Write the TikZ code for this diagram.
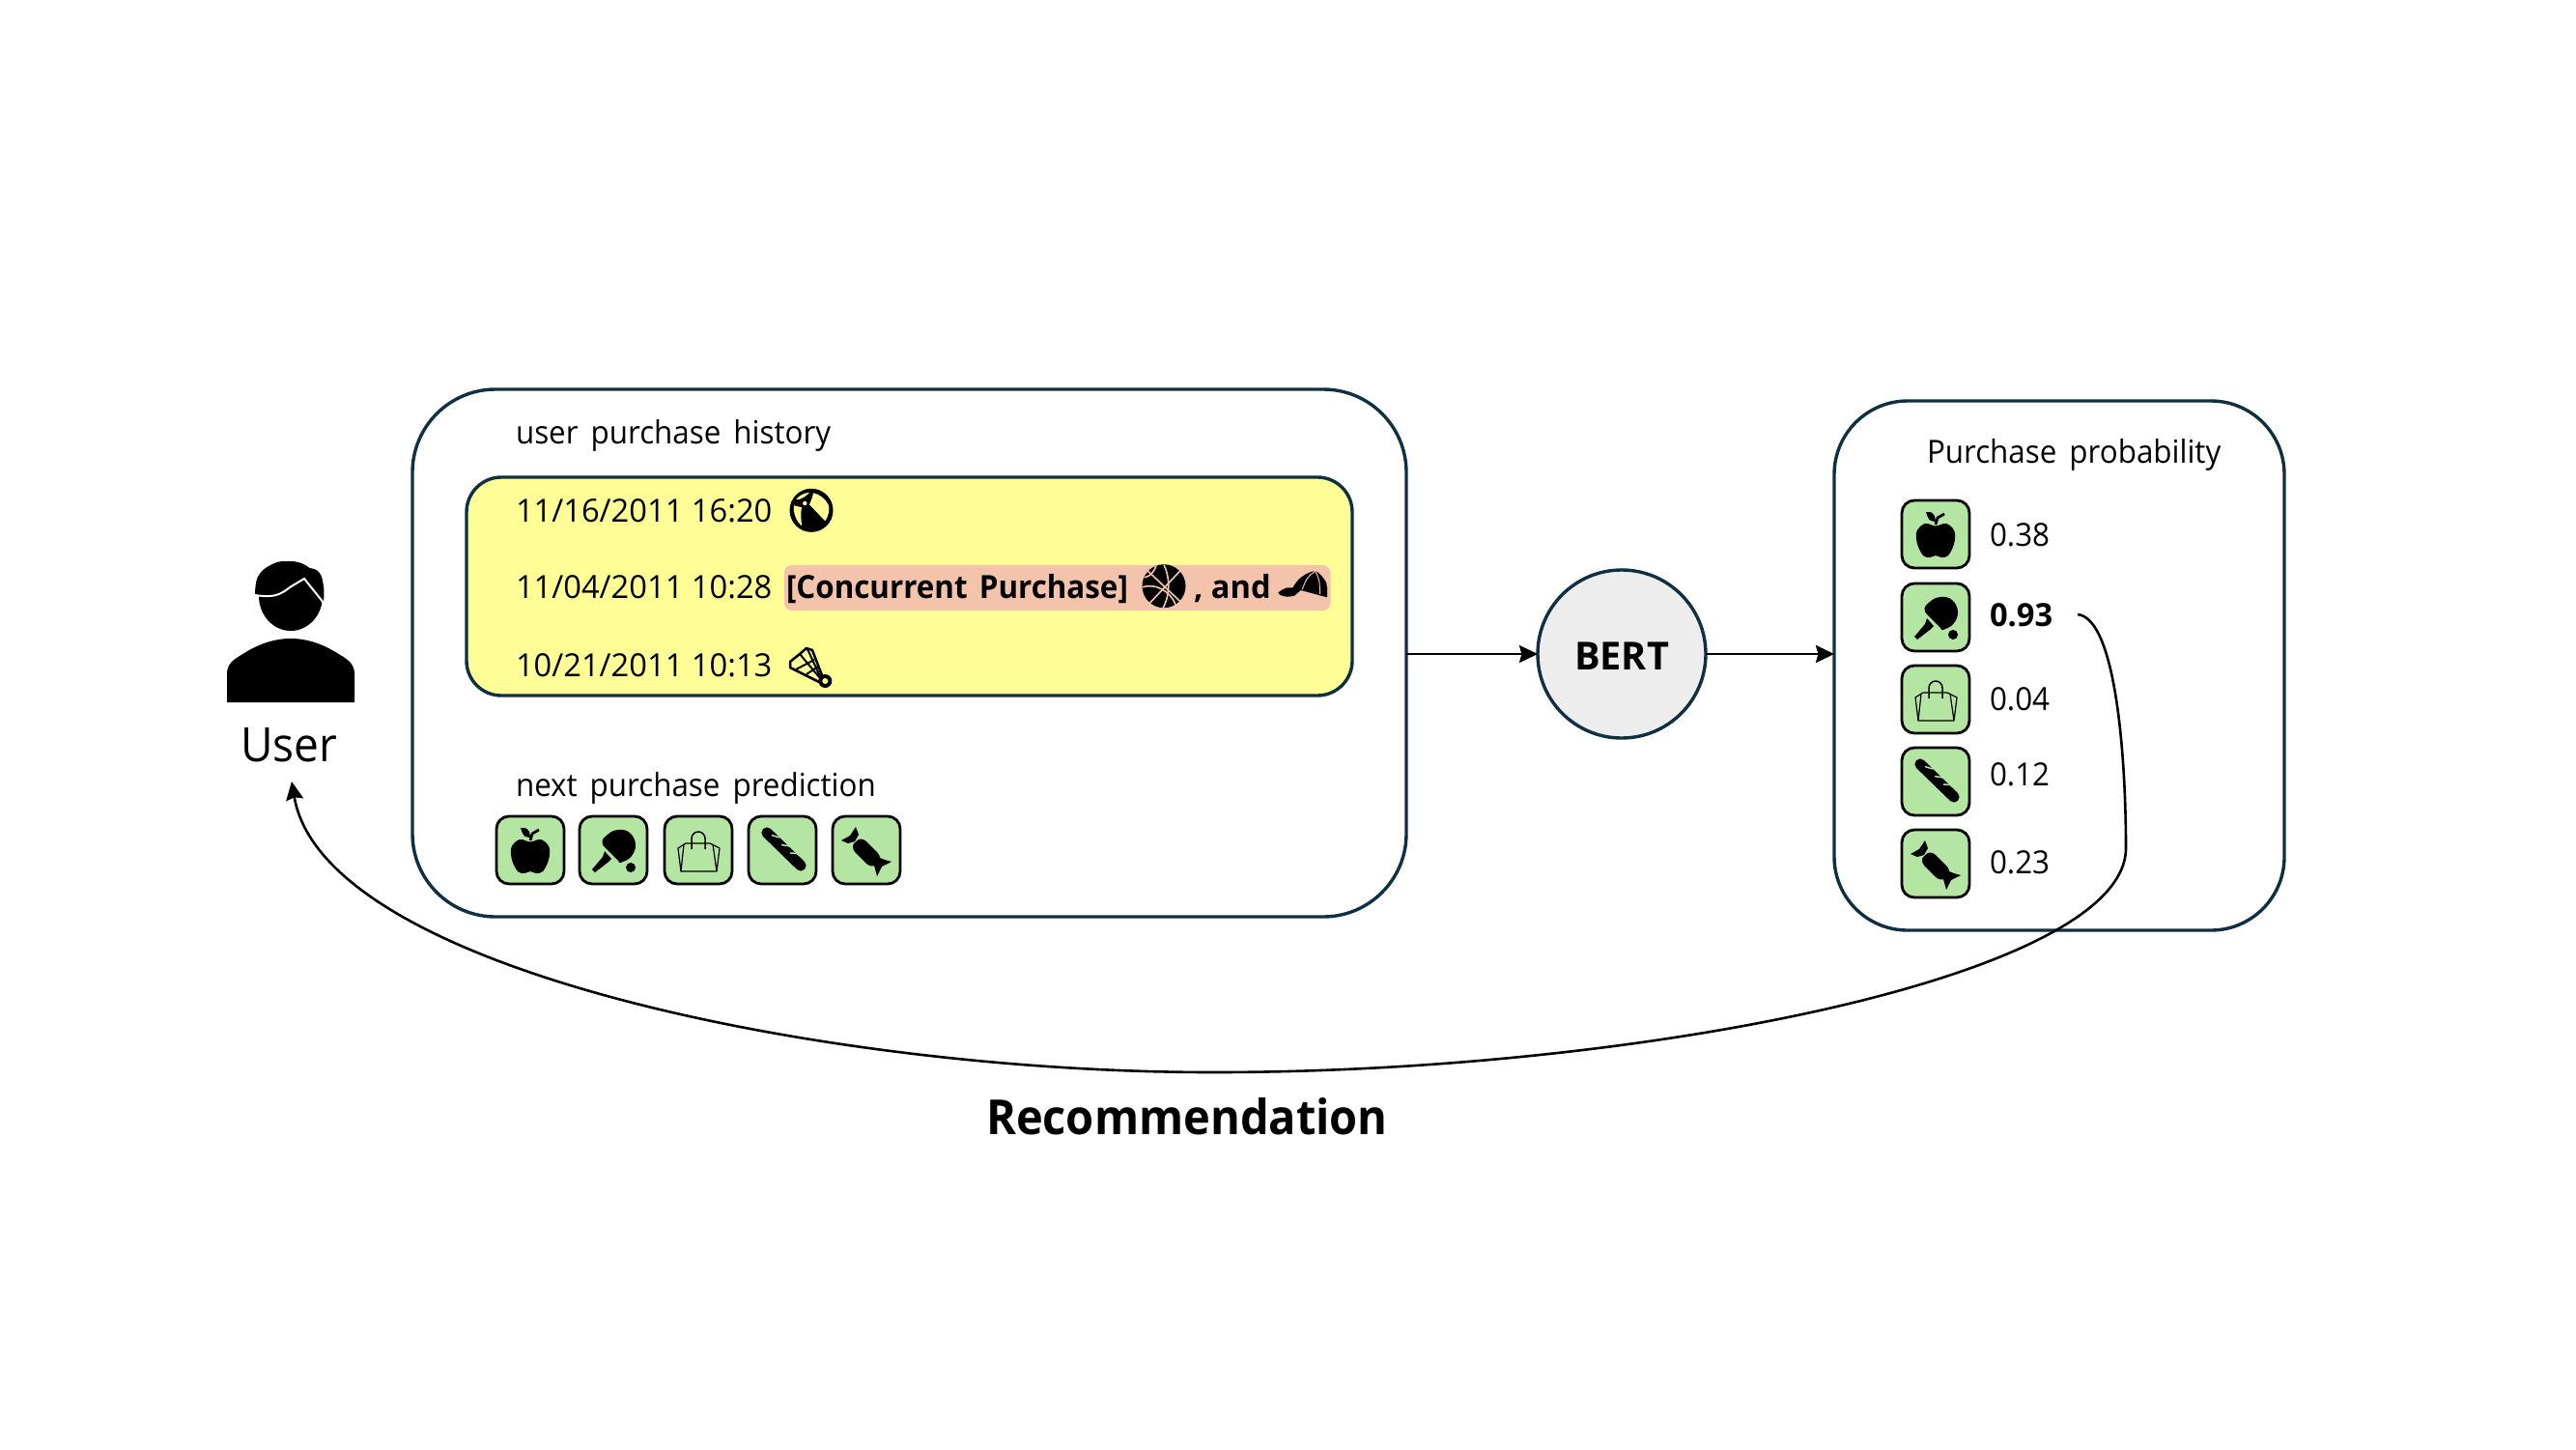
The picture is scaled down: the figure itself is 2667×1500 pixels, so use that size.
\documentclass[tikz,border=0pt]{standalone}
\usepackage{fontspec}
\setmainfont[FakeStretch=.95,WordSpace=1.6]{Open Sans}
\newfontfamily\datef[FakeStretch=.99]{Open Sans}
\newfontfamily\cpf[FakeStretch=.95,WordSpace=1.5]{Open Sans}
\newfontfamily\recf[FakeStretch=.94]{Open Sans}
\usetikzlibrary{arrows.meta}
\definecolor{navy}{HTML}{0F2F42}
\definecolor{hist}{HTML}{FFFE96}
\definecolor{pinkbg}{HTML}{F4C3AB}
\definecolor{leafgreen}{HTML}{B4E5A2}
\definecolor{bertfill}{HTML}{EDEDED}
\newcommand{\szA}{\fontsize{16.5}{20}\selectfont}
\tikzset{
 x=0.5pt,y=-0.5pt,
 panel/.style={draw=navy,line width=1.7pt,inner sep=0pt,outer sep=0pt},
 txt/.style={anchor=base west,inner sep=0pt,outer sep=0pt,font=\szA},
 iconbox/.style={draw=black,fill=leafgreen,line width=1.4pt,rounded corners=6.5pt,minimum width=35pt,minimum height=35pt,inner sep=0pt,outer sep=0pt},
 conn/.style={draw=black,line width=1.3pt,-{Stealth[length=9.5pt,width=9pt,inset=1.2pt]}},
 apple/.pic={
  \fill[black] plot[smooth cycle,tension=.6] coordinates {(0,-8.5)(-11,-11)(-19.5,-3)(-19,10)(-13,22)(-6,24)(0,22)(6,24)(13,22)(19,10)(19.5,-3)(11,-11)};
  \fill[black] (-10,-23) .. controls (-4,-23) .. (-1,-19) -- (0,-13) .. controls (-7,-14) .. cycle;
  \draw[black,line width=1.4pt] (0,-10) -- (2,-17) -- (9,-21);
 },
 paddle/.pic={
  \fill[black] plot[smooth cycle,tension=.7] coordinates {(-11,-6)(-6,-16)(5,-21)(17,-18)(23,-6)(19,6)(10,12)(4,11)};
  \fill[black] (-22,20) -- (-19,23) -- (-6,13) -- (-2,9) -- (-9,1) -- (-11,7) -- cycle;
  \draw[leafgreen,line width=.6pt] (-11,-4) -- (5,12);
  \fill[black] (18,18) circle (5);
 },
 bag/.pic={
  \draw[black,line width=.6pt,line join=round] (-21,-2) -- (-13,-7) -- (12,-7) -- (22,-2) -- (19,22) -- (-18,22) -- cycle;
  \draw[black,line width=.75pt] (-7,-1) -- (-7,-12) arc[start angle=180,end angle=0,x radius=7,y radius=-7] -- (7,-1);
  \draw[black,line width=.6pt] (-15,-6) -- (-18,22) (15,-6) -- (19,22);
 },
 baguette/.pic={
  \draw[black,line width=5.6pt,line cap=round] (-16,-18) -- (19,16);
  \draw[leafgreen,line width=.75pt] (-11,-15.5) -- (-3,-13) (-1,-5.5) -- (8,-4) (8,3) -- (16,3.5);
 },
 candy/.pic={
  \draw[black,line width=8pt,line cap=round] (-6,-3.5) -- (6,8.5);
  \draw[leafgreen,line width=.6pt] (-15,-6) .. controls (-11,-10) .. (-6,-14) (15,11) .. controls (11,15) .. (7,19);
  \fill[black] (-26,-10) -- (-17,-15) -- (-11,-24) -- (-8,-16) -- (-12,-9) -- (-19,-7) -- cycle;
  \fill[black] (26,12) -- (16,17) -- (11,27) -- (8,16) -- (14,8) -- (19,10) -- cycle;
 },
 bball/.pic={
  \fill[black] (0,0) circle (22.5);
  \fill[hist] (-2,-6) -- (14.3,11) .. controls (18,6) and (19,-2) .. (18,-5) .. controls (15,-12) and (8,-17) .. (2,-18) .. controls (1,-13) .. cycle;
  \fill[hist] (-16,-11) .. controls (-11,-11) and (-6,-14) .. (-2,-18.5) .. controls (-8,-18) and (-13,-15) .. cycle;
  \fill[hist] (-18,-5) -- (-10,-3) .. controls (-11,3) .. (-10,16) .. controls (-16,11) and (-19,2) .. cycle;
  \fill[hist] (-6.7,-7.3) circle (2.2);
 },
 shuttle/.pic={
  \fill[black] (14.3,10) circle (7);
  \fill[hist] (14.3,10) circle (3);
  \draw[black,line width=1.25pt,line join=round] (-22,-10) -- (-12,-18) -- (-5,-24) -- (1,-22) -- (11,4) -- (8,11) -- (-22,-4) -- cycle;
  \draw[black,line width=1pt] (-12,-18) -- (9,7) (-4,-23) -- (9,5) (-16,-2) -- (3,-12) (-5,3) -- (7,-5);
 },
 basket/.pic={
  \fill[black] (0,0) circle (22.5);
  \draw[pinkbg,line width=.8pt] (-17,-16) -- (17,16) (-15,18) -- (17,-16);
  \draw[pinkbg,line width=.8pt] (0,-22) .. controls (6,-10) and (7,8) .. (-1,23);
  \draw[pinkbg,line width=.8pt] (-22,1) .. controls (-10,-3) and (6,4) .. (12,19);
  \draw[pinkbg,line width=.8pt] (-20,-9) .. controls (-14,-10) and (-10,-15) .. (-8,-21);
 },
 cap/.pic={
  \fill[black] (-25.7,9.3) .. controls (-21,6) and (-18,4.5) .. (-15.7,4.3) -- (-10.7,4.3) -- (-7.3,-.7) .. controls (-4,-6) and (5,-12) .. (12.7,-13) .. controls (17,-11) and (20,-7) .. (21,-5.7) .. controls (24,-2) and (25,1) .. (25,4.3) -- (25,14.3) -- (-2.3,7) -- (-9,12.7) .. controls (-14,14) and (-19,14) .. (-22,12.5) .. controls (-24,12) .. cycle;
  \draw[pinkbg,line width=.5pt] (12.7,-13) .. controls (4,-6) .. (-.7,6) (12.7,-13) .. controls (17,-4) .. (17.7,11);
 }
}
\begin{document}
\begin{tikzpicture}
\useasboundingbox (0,0) rectangle (2667,1500);
% panels
\node[panel,minimum width=514.5pt,minimum height=273pt,rounded corners=43pt] (hbox) at (941.5,676) {};
\node[panel,fill=hist,minimum width=458.5pt,minimum height=113pt,rounded corners=18pt] (ybox) at (941.5,607) {};
\node[fill=pinkbg,draw=none,inner sep=0pt,minimum width=282.75pt,minimum height=23.5pt,rounded corners=4pt] (cbox) at (1094.75,608.5) {};
\node[panel,minimum width=233pt,minimum height=274pt,rounded corners=38pt] (pbox) at (2132,689) {};
\node[panel,fill=bertfill,circle,minimum size=87pt] (bert) at (1679,677) {};
\node[anchor=base,inner sep=0pt,font=\fontsize{20}{24}\datef\bfseries] (bertlabel) at (1679,693) {BERT};
% user
\fill[black] (301,617) ellipse[x radius=33,y radius=36];
\fill[black] plot[smooth,tension=.7] coordinates {(264,616)(267,597)(280,585)(297,581)(317,587)(330,592)(335,607)(335,623)} -- cycle;
\draw[white,line width=1pt] (264,616) .. controls (283,619) and (290,616) .. (300,608) -- (315,599) -- (335,624);
\fill[black] (235,727) -- (235,696) .. controls (236,685) and (245,681) .. (253,676) .. controls (285,656) and (317,656) .. (349,676) .. controls (357,681) and (366,685) .. (367,696) -- (367,727) -- cycle;
\node[txt,font=\fontsize{24.5}{28}\recf] (user) at (249,788) {User};
% history text
\node[txt] (h1) at (534,459) {user purchase history};
\node[txt,font=\szA\datef] (d1) at (534,540) {11/16/2011 16:20};
\node[txt,font=\szA\datef] (d2) at (534,619) {11/04/2011 10:28};
\node[txt,font=\szA\datef] (d3) at (534,700) {10/21/2011 10:13};
\pic at (840,528.3) {bball};
\pic at (840,695) {shuttle};
\node[txt,font=\szA\cpf\bfseries] (cp) at (814,619) {[Concurrent Purchase]};
\pic at (1205,606.7) {basket};
\node[txt,font=\szA\datef\bfseries] (andl) at (1236,619) {, and};
\pic at (1349,604) {cap};
\node[txt] (h2) at (534,824) {next purchase prediction};
% prediction icons
\node[iconbox] (a1) at (549,880) {}; \pic at (a1) {apple};
\node[iconbox] (a2) at (635,880) {}; \pic at (a2) {paddle};
\node[iconbox] (a3) at (723,880) {}; \pic at (a3) {bag};
\node[iconbox] (a4) at (810,880) {}; \pic at (a4) {baguette};
\node[iconbox] (a5) at (897,880) {}; \pic at (a5) {candy};
% probability
\node[txt] (pp) at (1995,479) {Purchase probability};
\node[iconbox] (b1) at (2004,553) {}; \pic at (b1) {apple};
\node[iconbox] (b2) at (2004,639) {}; \pic at (b2) {paddle};
\node[iconbox] (b3) at (2004,724) {}; \pic at (b3) {bag};
\node[iconbox] (b4) at (2004,809) {}; \pic at (b4) {baguette};
\node[iconbox] (b5) at (2004,894) {}; \pic at (b5) {candy};
\node[txt] (v1) at (2060,565) {0.38};
\node[txt,font=\szA\datef\bfseries] (v2) at (2060,648) {0.93};
\node[txt] (v3) at (2060,735) {0.04};
\node[txt] (v4) at (2060,813) {0.12};
\node[txt] (v5) at (2060,904) {0.23};
% connectors
\draw[conn] (hbox.east |- bert) -- (bert);
\draw[conn] (bert) -- (pbox.west |- bert);
\coordinate (recstart) at (2151,636);
\coordinate (recbend) at (2201,878);
\coordinate (recbottom) at (1256,1110);
\coordinate (rectip) at (302,809);
\draw[conn] (recstart) .. controls (2190,640) and (2201,780) .. (recbend) .. controls (2201,1010) and (1700,1110) .. (recbottom) .. controls (860,1110) and (335,1005) .. (rectip);
\node[txt,font=\fontsize{25}{30}\recf\bfseries] (rec) at (1021,1174) {Recommendation};
\end{tikzpicture}
\end{document}
